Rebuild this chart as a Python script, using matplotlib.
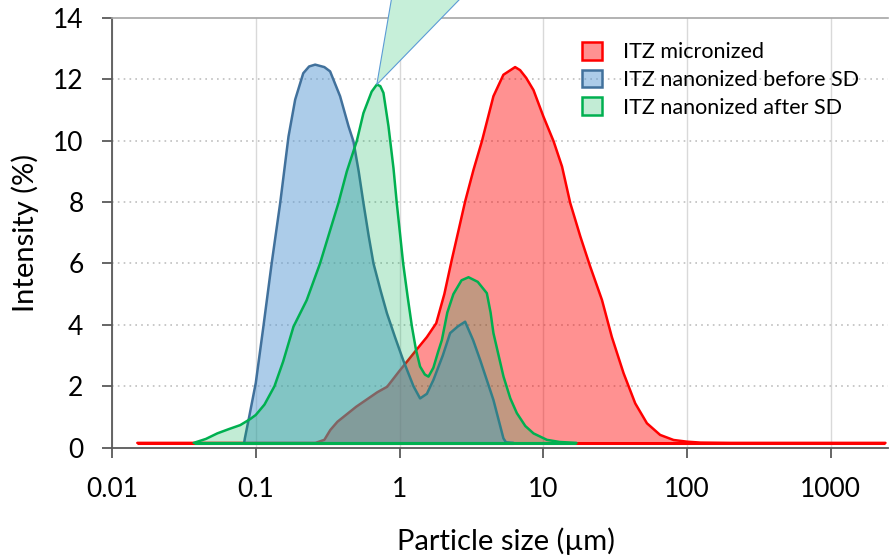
import matplotlib
matplotlib.use("Agg")
import matplotlib.pyplot as plt
from matplotlib.patches import Patch, Polygon
from matplotlib.transforms import IdentityTransform
import numpy as np

plt.rcParams['font.family'] = ['Lato', 'DejaVu Sans']

# ---- data ----
series_names = ["ITZ micronized", "ITZ nanonized before SD", "ITZ nanonized after SD"]

red_x = [0.015, 0.26, 0.30, 0.33, 0.37, 0.50, 0.70, 0.82, 1.0, 1.15, 1.32, 1.55, 1.8,
         2.05, 2.31, 2.58, 2.86, 3.27, 3.74, 4.5, 5.28, 6.37, 6.9, 7.6, 8.55, 10.0,
         11.8, 13.5, 15.4, 18.1, 21.2, 25.6, 30, 36.2, 43.6, 52.6, 65, 80.6, 100, 124,
         200, 2400]
red_y = [0.15, 0.15, 0.25, 0.57, 0.84, 1.33, 1.80, 1.98, 2.5, 2.85, 3.2, 3.6, 4.05,
         5.0, 6.12, 7.1, 8.02, 9.05, 9.98, 11.45, 12.15, 12.4, 12.3, 12.05, 11.65, 10.8,
         9.98, 9.16, 7.97, 6.88, 5.9, 4.81, 3.6, 2.42, 1.44, 0.79, 0.41, 0.245, 0.19, 0.16,
         0.15, 0.15]

blue_x = [0.083, 0.084, 0.09, 0.1, 0.113, 0.129, 0.148, 0.169, 0.188, 0.214, 0.235, 0.259,
          0.30, 0.329, 0.386, 0.442, 0.478, 0.52, 0.561, 0.61, 0.659, 0.74, 0.817, 0.93,
          1.06, 1.25, 1.39, 1.55, 1.72, 2.0, 2.25, 2.55, 2.86, 3.25, 3.64, 4.5, 5.28,
          5.5, 6.2]
blue_y = [0.15, 0.3, 1.0, 2.1, 3.94, 6.0, 7.98, 10.14, 11.34, 12.2, 12.42, 12.48,
          12.4, 12.26, 11.45, 10.47, 9.98, 9.0, 7.97, 6.9, 6.0, 5.1, 4.38, 3.6,
          2.85, 2.0, 1.6, 1.75, 2.2, 3.0, 3.73, 3.95, 4.1, 3.5, 2.85, 1.55, 0.3,
          0.17, 0.15]

green_x = [0.037, 0.045, 0.054, 0.065, 0.078, 0.091, 0.1, 0.115, 0.135, 0.155, 0.183,
           0.226, 0.28, 0.376, 0.43, 0.505, 0.561, 0.64, 0.695, 0.735, 0.773, 0.838,
           0.908, 0.957, 1.06, 1.14, 1.22, 1.3, 1.39, 1.5, 1.59, 1.72, 1.85, 1.97, 2.15,
           2.37, 2.7, 3.02, 3.5, 4.05, 4.3, 4.5, 5.29, 5.9, 6.55, 7.5, 8.55, 10.6, 13, 17]
green_y = [0.15, 0.28, 0.46, 0.6, 0.73, 0.92, 1.06, 1.4, 2.0, 2.8, 3.94,
           4.8, 6.0, 7.97, 9.0, 10.0, 10.9, 11.6, 11.83, 11.78, 11.56, 10.47,
           9.1, 7.97, 6.0, 4.9, 3.94, 3.2, 2.64, 2.38, 2.31, 2.6, 3.1, 3.5, 4.4,
           5.0, 5.45, 5.55, 5.4, 5.03, 4.4, 3.73, 2.31, 1.6, 1.12, 0.7, 0.46, 0.25, 0.18, 0.15]

x_ticks = [0.01, 0.1, 1, 10, 100, 1000]
x_tick_labels = ["0.01", "0.1", "1", "10", "100", "1000"]
y_ticks = [0, 2, 4, 6, 8, 10, 12, 14]

# ---- figure ----
fig = plt.figure(figsize=(8.9, 5.55), dpi=100)
ax = fig.add_axes([112/890, (555-447.5)/555, 776/890, 429.5/555])

ax.set_xscale('log')
ax.set_xlim(0.01, 2500)
ax.set_ylim(0, 14)

# grid
for xv in x_ticks:
    ax.axvline(xv, color='#D9D9D9', lw=1.0, zorder=0)
for yv in y_ticks[1:-1]:
    ax.axhline(yv, color='#BFBFBF', lw=1.2, ls=(0, (1, 2.5)), zorder=0)

styles = [
    dict(x=red_x, y=red_y, face=(1.0, 0.0, 0.0, 0.43), edge='#FF0000'),
    dict(x=blue_x, y=blue_y, face=(0.357, 0.608, 0.835, 0.5), edge='#41719C'),
    dict(x=green_x, y=green_y, face=(0.0, 0.69, 0.314, 0.24), edge='#00B050'),
]
for i, s in enumerate(styles):
    ax.fill(s['x'], s['y'], facecolor=s['face'], edgecolor='none', zorder=2 + i)
    ax.plot(s['x'], s['y'], color=s['edge'], lw=1.8, zorder=2 + i,
            solid_joinstyle='round', solid_capstyle='round')
    ax.plot([s['x'][0], s['x'][-1]], [s['y'][0], s['y'][-1]], color=s['edge'], lw=2.2,
            zorder=2 + i, solid_capstyle='butt')

# callout triangle from the green peak
gi = int(np.argmax(green_y))
tip = ax.transData.transform((green_x[gi], green_y[gi]))
tri = Polygon([tip, (tip[0] + 18, tip[1] + 105), (tip[0] + 102, tip[1] + 105)],
              closed=True, transform=IdentityTransform(), clip_on=False,
              facecolor='#C6EFD9', edgecolor='#5B9BD5', lw=0.8, zorder=10)
fig.patches.append(tri)

# axes styling
for sp in ['left', 'bottom']:
    ax.spines[sp].set_color('#595959')
    ax.spines[sp].set_linewidth(1.3)
ax.spines['top'].set_color('#A6A6A6')
ax.spines['top'].set_linewidth(1.2)
ax.spines['right'].set_visible(False)

ax.set_xticks(x_ticks)
ax.set_xticklabels(x_tick_labels)
ax.xaxis.set_minor_locator(matplotlib.ticker.NullLocator())
ax.set_yticks(y_ticks)
ax.tick_params(axis='both', which='major', direction='out', length=7.5, width=1.3,
               color='#595959', labelsize=19, labelcolor='black')
ax.tick_params(axis='x', pad=14)
ax.tick_params(axis='y', pad=13)

ax.set_xlabel("Particle size (µm)", fontsize=21)
ax.xaxis.set_label_coords(0.508, -0.185)
ax.set_ylabel("Intensity (%)", fontsize=21)
ax.yaxis.set_label_coords(-0.094, 0.5)

handles = [Patch(facecolor=s['face'], edgecolor=s['edge'], lw=1.8) for s in styles]
leg = ax.legend(handles, series_names, loc='upper left', bbox_to_anchor=(0.581, 0.99),
                frameon=False, fontsize=15.5, handlelength=0.9, handleheight=0.9,
                handletextpad=1.0, labelspacing=0.35)

fig.savefig("out.png", dpi=100)
